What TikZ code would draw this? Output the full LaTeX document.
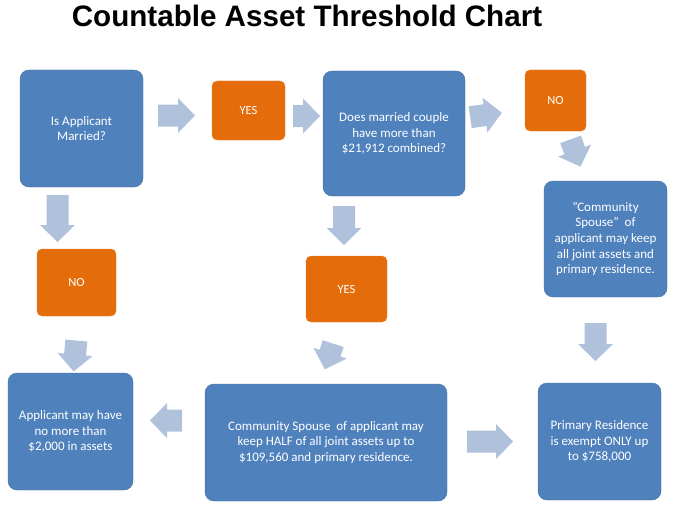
\documentclass[tikz,border=0pt]{standalone}
\usepackage{fontspec}
\setmainfont{Carlito}
\newfontfamily\titlefont{Liberation Sans}
\definecolor{boxblue}{HTML}{4F81BD}
\definecolor{boxedge}{HTML}{41719C}
\definecolor{answerorange}{HTML}{E46C0A}
\definecolor{arrowblue}{HTML}{B0C1DC}
\tikzset{
  question/.style={rounded corners=9pt, fill=boxblue, draw=boxedge, text=white,
    align=center, inner sep=0pt, font=\fontsize{13}{15.6}\selectfont},
  answer/.style={rounded corners=5pt, fill=answerorange, draw=answerorange!85!white,
    text=white, inner sep=0pt, font=\fontsize{12.5}{15}\selectfont},
  arrowfill/.style={fill=arrowblue}
}
%% block arrow: centre, angle, length
\newcommand\blkarrow[3]{%
  \fill[arrowfill, shift={#1}, rotate=#2]
    (-#3/2,-11) -- (#3/2-17,-11) -- (#3/2-17,-17.5) -- (#3/2,0)
    -- (#3/2-17,17.5) -- (#3/2-17,11) -- (-#3/2,11) -- cycle;}
\newcommand\dq{\symbol{34}}
\begin{document}
\begin{tikzpicture}[x=1pt,y=-1pt]
  \useasboundingbox (0,0) rectangle (675,511);

  \node (title) at (307,27) [anchor=base,font=\titlefont\bfseries\fontsize{29.6}{34}\selectfont]
    {Countable Asset Threshold Chart};

  %% questions and outcomes
  \node (married) at (81.5,128.5) [question,minimum width=123pt,minimum height=117pt]
    {Is Applicant\\Married?};
  \node (couple) at (394,133.5) [question,minimum width=142pt,minimum height=125pt]
    {Does married couple\\have more than\\\$21,912 combined?};
  \node (keepall) at (605.5,239) [question,minimum width=123pt,minimum height=116pt]
    {\dq Community\\Spouse\dq\ \ of\\applicant may keep\\all joint assets and\\primary residence.};
  \node (single) at (70.5,431.5) [question,minimum width=125pt,minimum height=117pt]
    {Applicant may have\\no more than\\\$2,000 in assets};
  \node (half) at (326,442.5) [question,minimum width=242pt,minimum height=117pt]
    {Community Spouse\ \ of applicant may\\keep HALF of all joint assets up to\\\$109,560 and primary residence.};
  \node (residence) at (599.5,441.5) [question,minimum width=123pt,minimum height=117pt]
    {Primary Residence\\is exempt ONLY up\\to \$758,000};

  %% answers
  \node (yesA) at (248.5,110.5) [answer,minimum width=73pt,minimum height=59pt] {YES};
  \node (noA) at (555.5,100.5) [answer,minimum width=61pt,minimum height=61pt] {NO};
  \node (noB) at (76.5,282.5) [answer,minimum width=79pt,minimum height=67pt] {NO};
  \node (yesB) at (346.5,289) [answer,minimum width=81pt,minimum height=66pt] {YES};

  %% block arrows
  \blkarrow{(176.5,115.5)}{0}{37}
  \blkarrow{(306.5,116)}{0}{27}
  \blkarrow{(486,115)}{8}{32}
  \blkarrow{(575.5,153)}{-70}{29}
  \blkarrow{(57.5,218.5)}{-90}{47}
  \blkarrow{(344,225.5)}{-90}{39}
  \blkarrow{(75,356)}{-95}{31}
  \blkarrow{(329,356.5)}{-108}{27}
  \blkarrow{(595.5,342)}{-90}{38}
  \blkarrow{(166,420.5)}{180}{32}
  \blkarrow{(490,441.5)}{0}{46}
\end{tikzpicture}
\end{document}
